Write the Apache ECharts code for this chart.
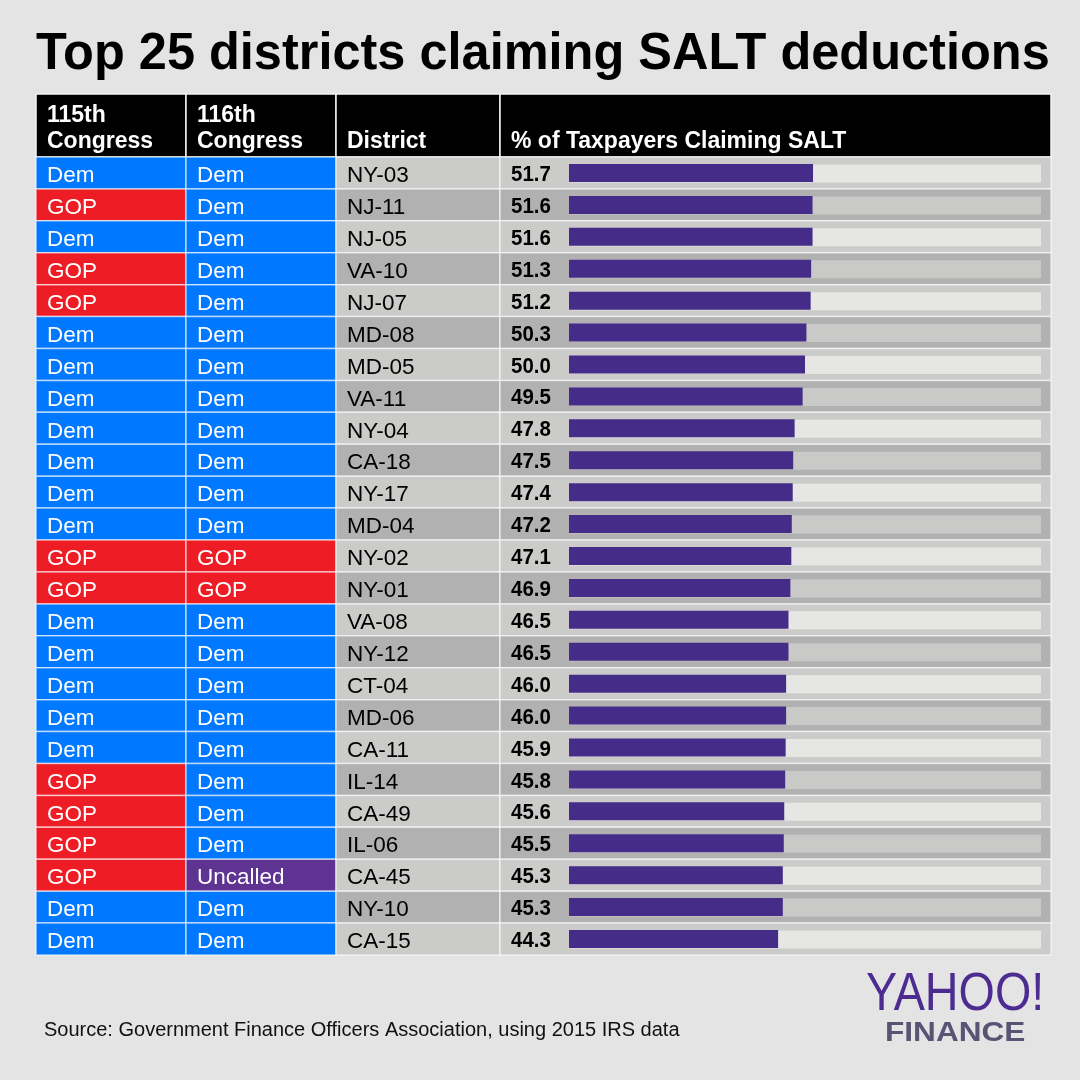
<!DOCTYPE html>
<html><head><meta charset="utf-8">
<script src="https://cdn.jsdelivr.net/npm/echarts@6/dist/echarts.min.js"></script>
<style>html,body{margin:0;padding:0;background:#e4e4e4}#c{width:1080px;height:1080px}</style>
</head><body><div id="c"></div>
<script>
// ---- data ----
const districts = ['NY-03','NJ-11','NJ-05','VA-10','NJ-07','MD-08','MD-05','VA-11','NY-04','CA-18','NY-17','MD-04','NY-02','NY-01','VA-08','NY-12','CT-04','MD-06','CA-11','IL-14','CA-49','IL-06','CA-45','NY-10','CA-15'];
const congress115 = ['Dem','GOP','Dem','GOP','GOP','Dem','Dem','Dem','Dem','Dem','Dem','Dem','GOP','GOP','Dem','Dem','Dem','Dem','Dem','GOP','GOP','GOP','GOP','Dem','Dem'];
const congress116 = ['Dem','Dem','Dem','Dem','Dem','Dem','Dem','Dem','Dem','Dem','Dem','Dem','GOP','GOP','Dem','Dem','Dem','Dem','Dem','Dem','Dem','Dem','Uncalled','Dem','Dem'];
const saltPct = [51.7,51.6,51.6,51.3,51.2,50.3,50.0,49.5,47.8,47.5,47.4,47.2,47.1,46.9,46.5,46.5,46.0,46.0,45.9,45.8,45.6,45.5,45.3,45.3,44.3];
const headerLine1 = ['115th','116th','',''];
const headerLine2 = ['Congress','Congress','District','% of Taxpayers Claiming SALT'];
const titleText = 'Top 25 districts claiming SALT deductions';
const sourceText = 'Source: Government Finance Officers Association, using 2015 IRS data';

// ---- styles / layout ----
const FONT = '"Liberation Sans", Arial, Helvetica, sans-serif';
const partyColor = {Dem:'#0078ff', GOP:'#ee1c25', Uncalled:'#5e3391'};
const rowFill = ['#cbcbc9', '#b1b1b1'];
const trackFill = ['#e6e6e4', '#c9c9c8'];
const TOP = 157, H = 798, HEAD_TOP = 94;
const cols = [{left:36,width:150},{left:186,width:150},{left:336,width:164},{left:500,width:551}];
const barArea = {left:569, width:472};

const chart = echarts.init(document.getElementById('c'), null, {renderer:'canvas'});

const grids = cols.map(c => ({left:c.left, width:c.width, top:TOP, height:H}));
grids.push({left:barArea.left, width:barArea.width, top:TOP, height:H});
const xAxes = grids.map((g,i) => i < 4
  ? {type:'value', min:0, max:1, show:false, gridIndex:i}
  : {type:'value', min:0, max:100, show:false, gridIndex:i});
const yAxes = grids.map((g,i) => ({type:'category', data:districts, inverse:true, show:false, gridIndex:i}));

function cellSeries(gi, fillFn, textFn, textOpt) {
  return {
    type:'custom', xAxisIndex:gi, yAxisIndex:gi, silent:true, z:1,
    data: districts.map(d => [0, d]), encode:{x:0, y:1},
    renderItem(params, api) {
      const i = params.dataIndex;
      const c = api.coord([0, api.value(1)]);
      const h = api.size([0, 1])[1];
      const cs = params.coordSys;
      const children = [{
        type:'rect',
        shape:{x:cs.x, y:c[1]-h/2, width:cs.width, height:h},
        style:{fill:fillFn(i), stroke:'rgba(255,255,255,0.6)', lineWidth:1.5}
      }];
      if (textFn) {
        children.push({
          type:'text', x:cs.x + 11, y:c[1] + (textOpt.dy || 0),
          scaleX: textOpt.scaleX || 1,
          style:{text:textFn(i), fill:textOpt.color, font:textOpt.font, align:'left', verticalAlign:'middle'}
        });
      }
      return {type:'group', children};
    }
  };
}

const series = [
  cellSeries(0, i => partyColor[congress115[i]], i => congress115[i], {color:'#fff', font:'22.5px '+FONT, dy:3}),
  cellSeries(1, i => partyColor[congress116[i]], i => congress116[i], {color:'#fff', font:'22.5px '+FONT, dy:3}),
  cellSeries(2, i => rowFill[i%2], i => districts[i], {color:'#000', font:'22.5px '+FONT, dy:3}),
  cellSeries(3, i => rowFill[i%2], i => saltPct[i].toFixed(1), {color:'#000', font:'bold 22px '+FONT, dy:2, scaleX:0.93}),
  {
    type:'custom', xAxisIndex:4, yAxisIndex:4, silent:true, z:2,
    data: districts.map(d => [0, d]), encode:{x:0, y:1},
    renderItem(params, api) {
      const i = params.dataIndex;
      const c = api.coord([0, api.value(1)]);
      const cs = params.coordSys;
      return {type:'rect', shape:{x:cs.x, y:c[1]-8.5, width:cs.width, height:18}, style:{fill:trackFill[i%2]}};
    }
  },
  {
    type:'bar', xAxisIndex:4, yAxisIndex:4, data:saltPct, barWidth:18, silent:true, z:3,
    itemStyle:{color:'#442c88'}
  }
];

const graphic = [
  {type:'text', x:36, y:55, scaleX:0.971, style:{text:titleText, font:'bold 52px '+FONT, fill:'#000', align:'left', verticalAlign:'middle'}}
];
cols.forEach((c, k) => {
  graphic.push({type:'rect', shape:{x:c.left, y:HEAD_TOP, width:c.width, height:TOP-HEAD_TOP}, style:{fill:'#000', stroke:'#f2f2f2', lineWidth:1.5}});
  if (headerLine1[k]) graphic.push({type:'text', x:c.left+11, y:116, style:{text:headerLine1[k], font:'bold 23px '+FONT, fill:'#fff', align:'left', verticalAlign:'middle'}});
  graphic.push({type:'text', x:c.left+11, y:141.5, style:{text:headerLine2[k], font:'bold 23px '+FONT, fill:'#fff', align:'left', verticalAlign:'middle'}});
});
graphic.push(
  {type:'text', x:44, y:1030, style:{text:sourceText, font:'20px '+FONT, fill:'#111', align:'left', verticalAlign:'middle'}},
  {type:'text', x:866, y:995, scaleX:0.865, style:{text:'YAHOO!', font:'54px '+FONT, fill:'#4d2c91', align:'left', verticalAlign:'middle'}},
  {type:'text', x:885, y:1034, scaleX:1.17, style:{text:'FINANCE', font:'bold 27px '+FONT, fill:'#575474', align:'left', verticalAlign:'middle'}}
);

chart.setOption({
  backgroundColor:'#e4e4e4',
  animation:false,
  grid:grids, xAxis:xAxes, yAxis:yAxes,
  series, graphic
});
</script>
</body></html>
